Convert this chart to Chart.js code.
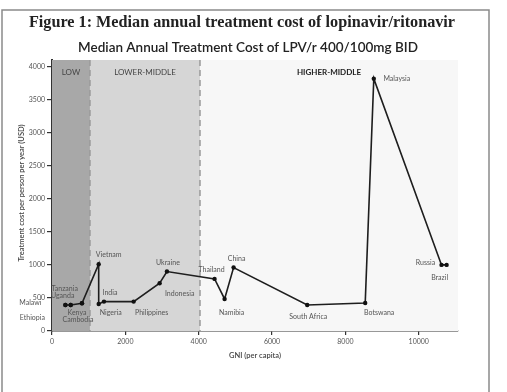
<!DOCTYPE html>
<html>
<head>
<meta charset="utf-8">
<script src="https://cdn.jsdelivr.net/npm/chart.js@4"></script>
<style>
  html, body { margin: 0; padding: 0; background: #ffffff; }
  #wrap { width: 507px; height: 392px; position: relative; }
  canvas { display: block; }
</style>
</head>
<body>
<div id="wrap"><canvas id="c" width="507" height="392"></canvas></div>
<script>
// ---- Data ----
const countries = ['Ethiopia','Malawi','Tanzania','Uganda','Kenya','Cambodia','Vietnam','Nigeria','India','Philippines','Indonesia','Ukraine','Thailand','Namibia','China','South Africa','Botswana','Malaysia','Russia','Brazil'];
const gniPerCapita = [365, 365, 510, 510, 817, 817, 1273, 1273, 1417, 2226, 2935, 3134, 4433, 4706, 4951, 6959, 8540, 8774, 10620, 10760];
const medianCost = [394, 394, 394, 394, 420, 420, 1010, 409, 445, 445, 722, 900, 788, 485, 960, 394, 424, 3818, 1000, 1000];
const xTickValues = [0, 2000, 4000, 6000, 8000, 10000];
const yTickValues = [0, 500, 1000, 1500, 2000, 2500, 3000, 3500, 4000];
const bandNames = ['LOW', 'LOWER-MIDDLE', 'HIGHER-MIDDLE'];
const bandEdges = [0, 1035, 4035, 11070];

// ---- Styling (kept separate from data) ----
const bandColors = ['#a8a8a8', '#d6d6d6', '#f7f7f7'];
const bandLabelColors = ['#444', '#444', '#222'];
const labelOffsets = {
  'Ethiopia': [-33, 13], 'Malawi': [-35, -2], 'Tanzania': [-6, -16], 'Uganda': [-8, -9],
  'Kenya': [-5, 10], 'Cambodia': [-4, 17], 'Vietnam': [10, -9], 'Nigeria': [12, 9],
  'India': [6, -9], 'Philippines': [18, 11], 'Indonesia': [20, 10], 'Ukraine': [1, -9],
  'Thailand': [-3, -9], 'Namibia': [7, 14], 'China': [3, -9], 'South Africa': [1, 12],
  'Botswana': [14, 10], 'Malaysia': [23, 0], 'Russia': [-16, -2], 'Brazil': [-7, 13]
};

const decor = {
  id: 'decor',
  beforeDatasetsDraw(chart) {
    const ctx = chart.ctx, xs = chart.scales.x, a = chart.chartArea;
    ctx.save();
    for (let i = 0; i < bandNames.length; i++) {
      const x0 = xs.getPixelForValue(bandEdges[i]);
      const x1 = xs.getPixelForValue(bandEdges[i + 1]);
      ctx.fillStyle = bandColors[i];
      ctx.fillRect(x0, a.top, x1 - x0, a.bottom - a.top);
      ctx.font = (i === 2 ? 'bold ' : '') + '8px Lato, "Liberation Sans", sans-serif';
      ctx.fillStyle = bandLabelColors[i];
      ctx.textAlign = 'center';
      ctx.textBaseline = 'middle';
      ctx.fillText(bandNames[i], (x0 + x1) / 2, a.top + 12);
    }
    ctx.strokeStyle = '#9a9a9a';
    ctx.lineWidth = 1.5;
    ctx.setLineDash([6, 4]);
    for (let i = 1; i < bandEdges.length - 1; i++) {
      const x = xs.getPixelForValue(bandEdges[i]);
      ctx.beginPath();
      ctx.moveTo(x, a.top);
      ctx.lineTo(x, a.bottom);
      ctx.stroke();
    }
    ctx.restore();
  },
  afterDatasetsDraw(chart) {
    const ctx = chart.ctx, meta = chart.getDatasetMeta(0);
    ctx.save();
    ctx.font = '7px Lato, "Liberation Sans", sans-serif';
    ctx.fillStyle = '#555';
    ctx.textAlign = 'center';
    ctx.textBaseline = 'middle';
    meta.data.forEach((pt, i) => {
      const off = labelOffsets[countries[i]] || [0, -9];
      ctx.fillText(countries[i], pt.x + off[0], pt.y + off[1]);
    });
    ctx.restore();
  },
  afterDraw(chart) {
    const ctx = chart.ctx, a = chart.chartArea;
    ctx.save();
    // frame
    ctx.strokeStyle = '#8a8a8a';
    ctx.lineWidth = 1.5;
    ctx.beginPath();
    ctx.moveTo(2, 392); ctx.lineTo(2, 10); ctx.lineTo(489, 10); ctx.lineTo(489, 392);
    ctx.stroke();
    // titles
    ctx.fillStyle = '#222';
    ctx.textAlign = 'center';
    ctx.textBaseline = 'middle';
    ctx.font = 'bold 16.2px "Liberation Serif", "DejaVu Serif", serif';
    ctx.fillText('Figure 1: Median annual treatment cost of lopinavir/ritonavir', 242, 23);
    ctx.font = '600 13.5px Lato, "Open Sans", sans-serif';
    ctx.fillText('Median Annual Treatment Cost of LPV/r 400/100mg BID', 248, 48);
    // axis titles
    ctx.font = '600 7.5px Lato, "Liberation Sans", sans-serif';
    ctx.fillStyle = '#444';
    ctx.fillText('GNI (per capita)', (a.left + a.right) / 2, 356);
    ctx.translate(22, 193);
    ctx.rotate(-Math.PI / 2);
    ctx.fillText('Treatment cost per person per year (USD)', 0, 0);
    ctx.restore();
  }
};

new Chart(document.getElementById('c'), {
  type: 'line',
  data: {
    datasets: [{
      data: gniPerCapita.map((g, i) => ({ x: g, y: medianCost[i] })),
      borderColor: '#1e1e1e',
      borderWidth: 1.6,
      pointRadius: 2.2,
      pointBackgroundColor: '#111',
      pointBorderColor: '#111',
      pointBorderWidth: 0,
      tension: 0,
      fill: false
    }]
  },
  options: {
    responsive: false,
    devicePixelRatio: 1,
    animation: false,
    layout: { padding: { left: 0, top: 60, right: 49, bottom: 0 } },
    plugins: { legend: { display: false }, tooltip: { enabled: false }, title: { display: false } },
    scales: {
      x: {
        type: 'linear',
        min: 0, max: bandEdges[bandEdges.length - 1],
        afterBuildTicks: s => { s.ticks = xTickValues.map(v => ({ value: v })); },
        afterFit: s => { s.height = 61; },
        border: { display: true, color: '#333', width: 1.5 },
        grid: { drawOnChartArea: false, drawTicks: true, tickLength: 4, color: '#333', lineWidth: 1.2 },
        ticks: { callback: v => String(v), font: { size: 7, family: 'Lato, "Liberation Sans", sans-serif' }, color: '#555', padding: 3, maxRotation: 0 }
      },
      y: {
        type: 'linear',
        min: 0, max: 4100,
        afterBuildTicks: s => { s.ticks = yTickValues.map(v => ({ value: v })); },
        afterFit: s => { s.width = 52; },
        border: { display: true, color: '#333', width: 2 },
        grid: { drawOnChartArea: false, drawTicks: true, tickLength: 5, color: '#333', lineWidth: 1.2 },
        ticks: { callback: v => String(v), font: { size: 7, family: 'Lato, "Liberation Sans", sans-serif' }, color: '#555', padding: 2 }
      }
    }
  },
  plugins: [decor]
});
</script>
</body>
</html>
